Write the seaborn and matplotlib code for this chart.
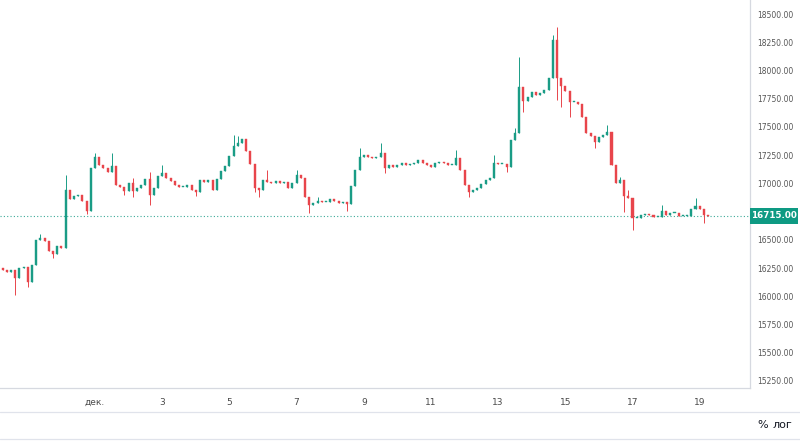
import matplotlib
matplotlib.use("Agg")
import matplotlib.pyplot as plt
import matplotlib.dates as mdates
from matplotlib.patches import Rectangle
from matplotlib.lines import Line2D
import numpy as np
import pandas as pd
import seaborn as sns

# ---------------- data (3-hour candles) ----------------
start_time = "2022-11-28 06:00"
candle_hours = 3
first_open = 16252
closes = [
    16234, 16217, 16234, 16164, 16252, 16261, 16128, 16279, 16500, 16518,
    16491, 16403, 16376, 16447, 16429, 16942, 16863, 16889, 16898, 16845,
    16757, 17137, 17234, 17164, 17137, 17102, 17155, 16987, 16969, 16934,
    17004, 16934, 16960, 16987, 17040, 16898, 16960, 17066, 17093, 17049,
    17022, 16987, 16969, 16969, 16987, 16942, 16925, 17031, 17013, 17031,
    16942, 17040, 17111, 17155, 17243, 17332, 17358, 17394, 17288, 17173,
    16960, 16942, 17031, 17013, 17004, 17022, 17004, 17013, 16960, 17004,
    17075, 17049, 16880, 16810, 16827, 16845, 16836, 16836, 16863, 16845,
    16827, 16836, 16819, 16978, 17119, 17234, 17252, 17234, 17226, 17234,
    17270, 17137, 17164, 17146, 17164, 17181, 17164, 17173, 17181, 17208,
    17181, 17164, 17146, 17181, 17190, 17181, 17164, 17164, 17226, 17119,
    16987, 16925, 16942, 16960, 16995, 17031, 17049, 17181, 17173, 17173,
    17146, 17385, 17447, 17854, 17730, 17765, 17810, 17783, 17801, 17827,
    17934, 18270, 17934, 17863, 17819, 17721, 17721, 17704, 17588, 17447,
    17420, 17367, 17411, 17429, 17456, 17164, 17004, 17031, 16889, 16872,
    16695, 16695, 16721, 16730, 16721, 16703, 16703, 16756, 16721, 16739,
    16739, 16712, 16712, 16712, 16774, 16801, 16774, 16721, 16715,
]
wick_highs = {9: 16553, 15: 17075, 22: 17270, 26: 17270, 31: 17049, 35: 17102,
              38: 17164, 55: 17429, 56: 17420, 63: 17119, 70: 17119, 75: 16880,
              85: 17314, 90: 17358, 108: 17296, 117: 17252, 122: 17491,
              123: 18119, 131: 18314, 132: 18385, 144: 17518, 147: 17057,
              149: 16942, 157: 16810, 165: 16872}
wick_lows = {3: 16013, 6: 16084, 12: 16341, 20: 16730, 29: 16898, 31: 16880,
             35: 16810, 46: 16889, 60: 16925, 61: 16880, 73: 16739, 82: 16757,
             91: 17093, 111: 16880, 120: 17102, 124: 17633, 132: 17739,
             133: 17677, 135: 17588, 141: 17314, 148: 16748, 150: 16588,
             167: 16650}
last_price = 16715
price_ticks = [18500, 18250, 18000, 17750, 17500, 17250, 17000,
               16500, 16250, 16000, 15750, 15500, 15250]
date_ticks = ["2022-12-01", "2022-12-03", "2022-12-05", "2022-12-07", "2022-12-09",
              "2022-12-11", "2022-12-13", "2022-12-15", "2022-12-17", "2022-12-19"]
date_labels = ["дек.", "3", "5", "7", "9", "11", "13", "15", "17", "19"]
x_start, x_end = "2022-11-28 04:09", "2022-12-20 11:54"
y_min, y_max = 15188, 18624

UP = "#1a9c86"
DOWN = "#e8454b"
LABEL_GREEN = "#0e9a83"

# ---------------- build frame ----------------
sns.set_theme(style="white")
plt.rcParams['font.family'] = ['DejaVu Sans']

times = pd.date_range(start_time, periods=len(closes), freq=f"{candle_hours}h")
opens = [first_open] + closes[:-1]
df = pd.DataFrame({"time": times, "open": opens, "close": closes})
df["high"] = [max(o, c, wick_highs.get(i, -np.inf)) for i, (o, c) in enumerate(zip(df.open, df.close))]
df["low"] = [min(o, c, wick_lows.get(i, np.inf)) for i, (o, c) in enumerate(zip(df.open, df.close))]
df["up"] = df.close >= df.open
df["x"] = mdates.date2num(df.time)

fig = plt.figure(figsize=(8, 4.45), dpi=100)
fig.patch.set_facecolor("white")
ax = fig.add_axes([0, 57 / 445, 750 / 800, 388 / 445])
ax.set_facecolor("white")

colors = np.where(df.up, UP, DOWN)
width = candle_hours / 24 * 0.5
body_bottom = np.minimum(df.open, df.close)
body_h = np.maximum(np.abs(df.close - df.open), 7)

ax.vlines(df.x, df.low, df.high, colors=colors, linewidth=0.7, zorder=2)
ax.bar(df.x, body_h, bottom=body_bottom, width=width, color=colors,
       edgecolor=colors, linewidth=0.3, zorder=3)

ax.axhline(last_price, color=UP, linestyle=(0, (1, 2)), linewidth=0.8, alpha=0.85, zorder=1)

ax.set_xlim(mdates.date2num(pd.Timestamp(x_start)), mdates.date2num(pd.Timestamp(x_end)))
ax.set_ylim(y_min, y_max)

ax.set_xticks(mdates.date2num(pd.to_datetime(date_ticks)))
ax.set_xticklabels(date_labels)
ax.yaxis.tick_right()
ax.set_yticks(price_ticks)
ax.set_yticklabels([f"{v:.2f}" for v in price_ticks])
ax.tick_params(axis="y", length=0, pad=5, labelsize=5.5, colors="#555555")
ax.tick_params(axis="x", length=0, pad=7, labelsize=6.5, colors="#4a4a4a")
for lbl in ax.get_yticklabels():
    lbl.set_horizontalalignment("left")

for side in ["top", "left"]:
    ax.spines[side].set_visible(False)
for side in ["right", "bottom"]:
    ax.spines[side].set_visible(True)
    ax.spines[side].set_color("#d6d9e0")
    ax.spines[side].set_linewidth(0.9)
ax.grid(False)

# price label box on the right scale
fig.canvas.draw()
y_disp = ax.transData.transform((0, last_price))[1]
fig_h = fig.get_size_inches()[1] * fig.dpi
y_frac = y_disp / fig_h
box_h = 16 / 445
fig.add_artist(Rectangle((750 / 800, y_frac - box_h / 2), 48 / 800, box_h,
                         transform=fig.transFigure, facecolor=LABEL_GREEN, edgecolor="none", zorder=5))
fig.text(774 / 800, y_frac, f"{last_price:.2f}", color="white", fontsize=6.3,
         fontweight="bold", ha="center", va="center", zorder=6)

# bottom separators and scale buttons
for ypx in [412, 439]:
    fig.add_artist(Line2D([0, 1], [(445 - ypx) / 445] * 2, transform=fig.transFigure,
                          color="#e0e3eb", linewidth=0.9))
fig.text(757 / 800, (445 - 425) / 445, "%", fontsize=8, color="#131722", ha="left", va="center")
fig.text(773 / 800, (445 - 425) / 445, "лог", fontsize=8, color="#131722", ha="left", va="center")

fig.savefig("out.png", dpi=100, facecolor="white")
